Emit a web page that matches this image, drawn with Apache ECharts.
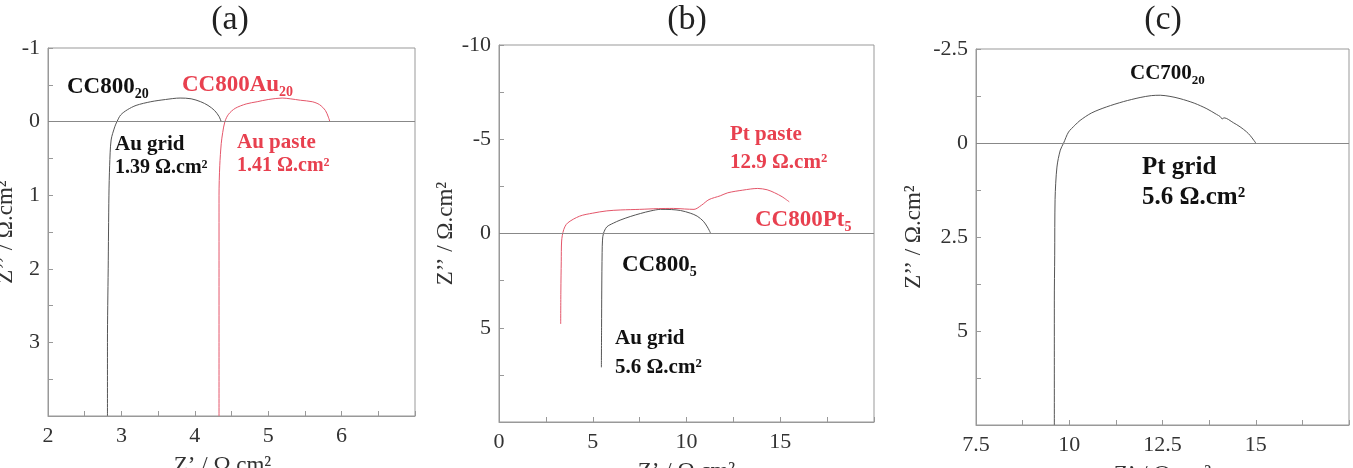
<!DOCTYPE html>
<html>
<head>
<meta charset="utf-8">
<script src="https://cdn.jsdelivr.net/npm/echarts@6.0.0/dist/echarts.min.js"></script>
<style>
  html, body { margin: 0; padding: 0; background: #fff; }
  #chart { width: 1353px; height: 468px; }
</style>
</head>
<body>
<div id="chart"></div>
<script>
// (a) CC800_20 Au grid / CC800Au_20 Au paste
var aGridX = [2.81, 2.81, 2.82, 2.83, 2.84, 2.86, 2.91, 2.94, 2.99, 3.08, 3.2, 3.4, 3.6, 3.8, 3.95, 4.08, 4.18, 4.27, 4.33, 4.36];
var aGridY = [4, 3, 2, 1, 0.6, 0.25, 0.07, 0, -0.09, -0.16, -0.22, -0.27, -0.3, -0.32, -0.31, -0.27, -0.22, -0.15, -0.07, 0];
var aPasteX = [4.33, 4.33, 4.33, 4.33, 4.34, 4.36, 4.38, 4.41, 4.46, 4.55, 4.7, 4.85, 5.0, 5.19, 5.3, 5.44, 5.6, 5.7, 5.78, 5.82, 5.84];
var aPasteY = [4, 3, 2, 1, 0.6, 0.3, 0.15, 0, -0.1, -0.18, -0.24, -0.27, -0.3, -0.32, -0.31, -0.29, -0.27, -0.23, -0.15, -0.06, 0];

// (b) CC800Pt_5 Pt paste / CC800_5 Au grid
var bPasteX = [3.29, 3.3, 3.32, 3.34, 3.45, 3.65, 4.3, 5.0, 5.75, 6.5, 7.5, 8.5, 9.3, 9.9, 10.4, 10.8, 11.2, 11.8, 12.2, 13.0, 13.8, 14.3, 14.7, 15.1, 15.48];
var bPasteY = [4.8, 3, 1.5, 0.4, -0.2, -0.55, -0.92, -1.08, -1.2, -1.25, -1.28, -1.32, -1.33, -1.3, -1.28, -1.5, -1.8, -2.0, -2.16, -2.3, -2.39, -2.32, -2.16, -1.95, -1.68];
var bGridX = [5.46, 5.47, 5.48, 5.5, 5.52, 5.57, 5.75, 6.1, 6.46, 7.0, 7.54, 8.1, 8.61, 9.2, 9.68, 10.2, 10.57, 10.9, 11.11, 11.22, 11.29];
var bGridY = [7.1, 5, 3, 1, 0.35, 0, -0.35, -0.55, -0.71, -0.9, -1.06, -1.2, -1.28, -1.27, -1.22, -1.08, -0.92, -0.65, -0.35, -0.15, 0];

// (c) CC700_20 Pt grid
var cGridX = [9.6, 9.6, 9.6, 9.61, 9.62, 9.67, 9.76, 9.85, 9.98, 10.15, 10.29, 10.6, 11.0, 11.45, 11.9, 12.2, 12.44, 12.7, 12.97, 13.35, 13.69, 13.95, 14.05, 14.1, 14.15, 14.4, 14.58, 14.75, 14.85, 14.95, 15.0];
var cGridY = [7.5, 5, 4.2, 3, 1.5, 0.64, 0.19, 0, -0.29, -0.47, -0.6, -0.8, -0.96, -1.1, -1.21, -1.26, -1.27, -1.24, -1.18, -1.06, -0.91, -0.76, -0.7, -0.64, -0.67, -0.54, -0.43, -0.3, -0.2, -0.07, 0];

var FONT = '"Liberation Serif", "Times New Roman", serif';
var RED_LINE = '#e4566a', RED_TEXT = '#e8404f', BLACK_LINE = '#555', FRAME = '#999';

function pairs(xs, ys) {
  return xs.map(function (x, i) { return [x, ys[i]]; });
}

function makeX(idx, min, max, interval, namePad) {
  return {
    gridIndex: idx, type: 'value', min: min, max: max, interval: interval,
    name: 'Z\u2019 / \u03A9.cm\u00B2', nameLocation: 'middle', nameGap: 38,
    nameTextStyle: { fontFamily: FONT, fontSize: 23, color: '#333', padding: namePad || 0 },
    axisLine: { onZero: false, lineStyle: { color: FRAME } },
    axisTick: { inside: true, length: 5, lineStyle: { color: FRAME } },
    minorTick: { show: true, splitNumber: 2, length: 5, lineStyle: { color: FRAME } },
    axisLabel: { fontFamily: FONT, fontSize: 22, color: '#333', margin: 9, showMaxLabel: false },
    splitLine: { show: false }
  };
}

function makeY(idx, min, max, interval, gap) {
  return {
    gridIndex: idx, type: 'value', min: min, max: max, interval: interval, inverse: true,
    name: 'Z\u2019\u2019 / \u03A9.cm\u00B2', nameLocation: 'middle', nameGap: gap,
    nameTextStyle: { fontFamily: FONT, fontSize: 23, color: '#333' },
    axisLine: { onZero: false, lineStyle: { color: FRAME } },
    axisTick: { inside: true, length: 5, lineStyle: { color: FRAME } },
    minorTick: { show: true, splitNumber: 2, length: 5, lineStyle: { color: FRAME } },
    axisLabel: { fontFamily: FONT, fontSize: 22, color: '#333', margin: 8, showMaxLabel: false },
    splitLine: { show: false }
  };
}

function curve(idx, data, color, zeroLine) {
  var s = {
    type: 'line', xAxisIndex: idx, yAxisIndex: idx, data: data,
    showSymbol: false, smooth: 0.3, silent: true,
    lineStyle: { color: color, width: 1 }
  };
  if (zeroLine) {
    s.markLine = {
      silent: true, symbol: 'none', label: { show: false },
      lineStyle: { color: '#888', width: 1, type: 'solid' },
      data: [{ yAxis: 0 }]
    };
  }
  return s;
}

// text with optional subscript, x = left edge, y = middle
function note(x, y, main, sub, color, size) {
  var text = '{m|' + main + '}' + (sub ? '{s|' + sub + '}' : '');
  return {
    type: 'text', x: x, y: y, silent: true,
    style: {
      text: text, verticalAlign: 'middle', align: 'left',
      rich: {
        m: { fontFamily: FONT, fontWeight: 'bold', fontSize: size, fill: color, lineHeight: size + 6 },
        s: { fontFamily: FONT, fontWeight: 'bold', fontSize: Math.round(size * 0.6), fill: color, lineHeight: size + 6, verticalAlign: 'bottom' }
      }
    }
  };
}

function panelTitle(x, label) {
  return {
    type: 'text', x: x, y: 20, silent: true,
    style: { text: label, fontFamily: FONT, fontSize: 34, fill: '#222', align: 'center', verticalAlign: 'middle' }
  };
}

var chart = echarts.init(document.getElementById('chart'));

var option = {
  animation: false,
  backgroundColor: '#fff',
  grid: [
    { left: 48, top: 48, width: 367, height: 368, show: true, borderColor: FRAME, borderWidth: 1, containLabel: false, outerBoundsMode: 'none' },
    { left: 499, top: 45, width: 375, height: 377, show: true, borderColor: FRAME, borderWidth: 1, containLabel: false, outerBoundsMode: 'none' },
    { left: 976, top: 49, width: 373, height: 376, show: true, borderColor: FRAME, borderWidth: 1, containLabel: false, outerBoundsMode: 'none' }
  ],
  xAxis: [
    makeX(0, 2, 7, 1, [0, 18, 0, 0]),
    makeX(1, 0, 20, 5),
    makeX(2, 7.5, 17.5, 2.5)
  ],
  yAxis: [
    makeY(0, -1, 4, 1, 31),
    makeY(1, -10, 10, 5, 40),
    makeY(2, -2.5, 7.5, 2.5, 51)
  ],
  series: [
    curve(0, pairs(aGridX, aGridY), BLACK_LINE, true),
    curve(0, pairs(aPasteX, aPasteY), RED_LINE, false),
    curve(1, pairs(bGridX, bGridY), BLACK_LINE, true),
    curve(1, pairs(bPasteX, bPasteY), RED_LINE, false),
    curve(2, pairs(cGridX, cGridY), BLACK_LINE, true)
  ],
  graphic: [
    panelTitle(230, '(a)'),
    panelTitle(687, '(b)'),
    panelTitle(1163, '(c)'),

    note(67, 87, 'CC800', '20', '#111', 23),
    note(182, 85, 'CC800Au', '20', RED_TEXT, 23),
    note(115, 145, 'Au grid', null, '#111', 21),
    note(115, 168, '1.39 \u03A9.cm\u00B2', null, '#111', 20),
    note(237, 143, 'Au paste', null, RED_TEXT, 21),
    note(237, 166, '1.41 \u03A9.cm\u00B2', null, RED_TEXT, 20),

    note(730, 135, 'Pt paste', null, RED_TEXT, 21),
    note(730, 163, '12.9 \u03A9.cm\u00B2', null, RED_TEXT, 21),
    note(755, 220, 'CC800Pt', '5', RED_TEXT, 23),
    note(622, 265, 'CC800', '5', '#111', 23),
    note(615, 339, 'Au grid', null, '#111', 21),
    note(615, 368, '5.6 \u03A9.cm\u00B2', null, '#111', 21),

    note(1130, 74, 'CC700', '20', '#111', 21),
    note(1142, 168, 'Pt grid', null, '#111', 25),
    note(1142, 198, '5.6 \u03A9.cm\u00B2', null, '#111', 25)
  ]
};

chart.setOption(option);
</script>
</body>
</html>
